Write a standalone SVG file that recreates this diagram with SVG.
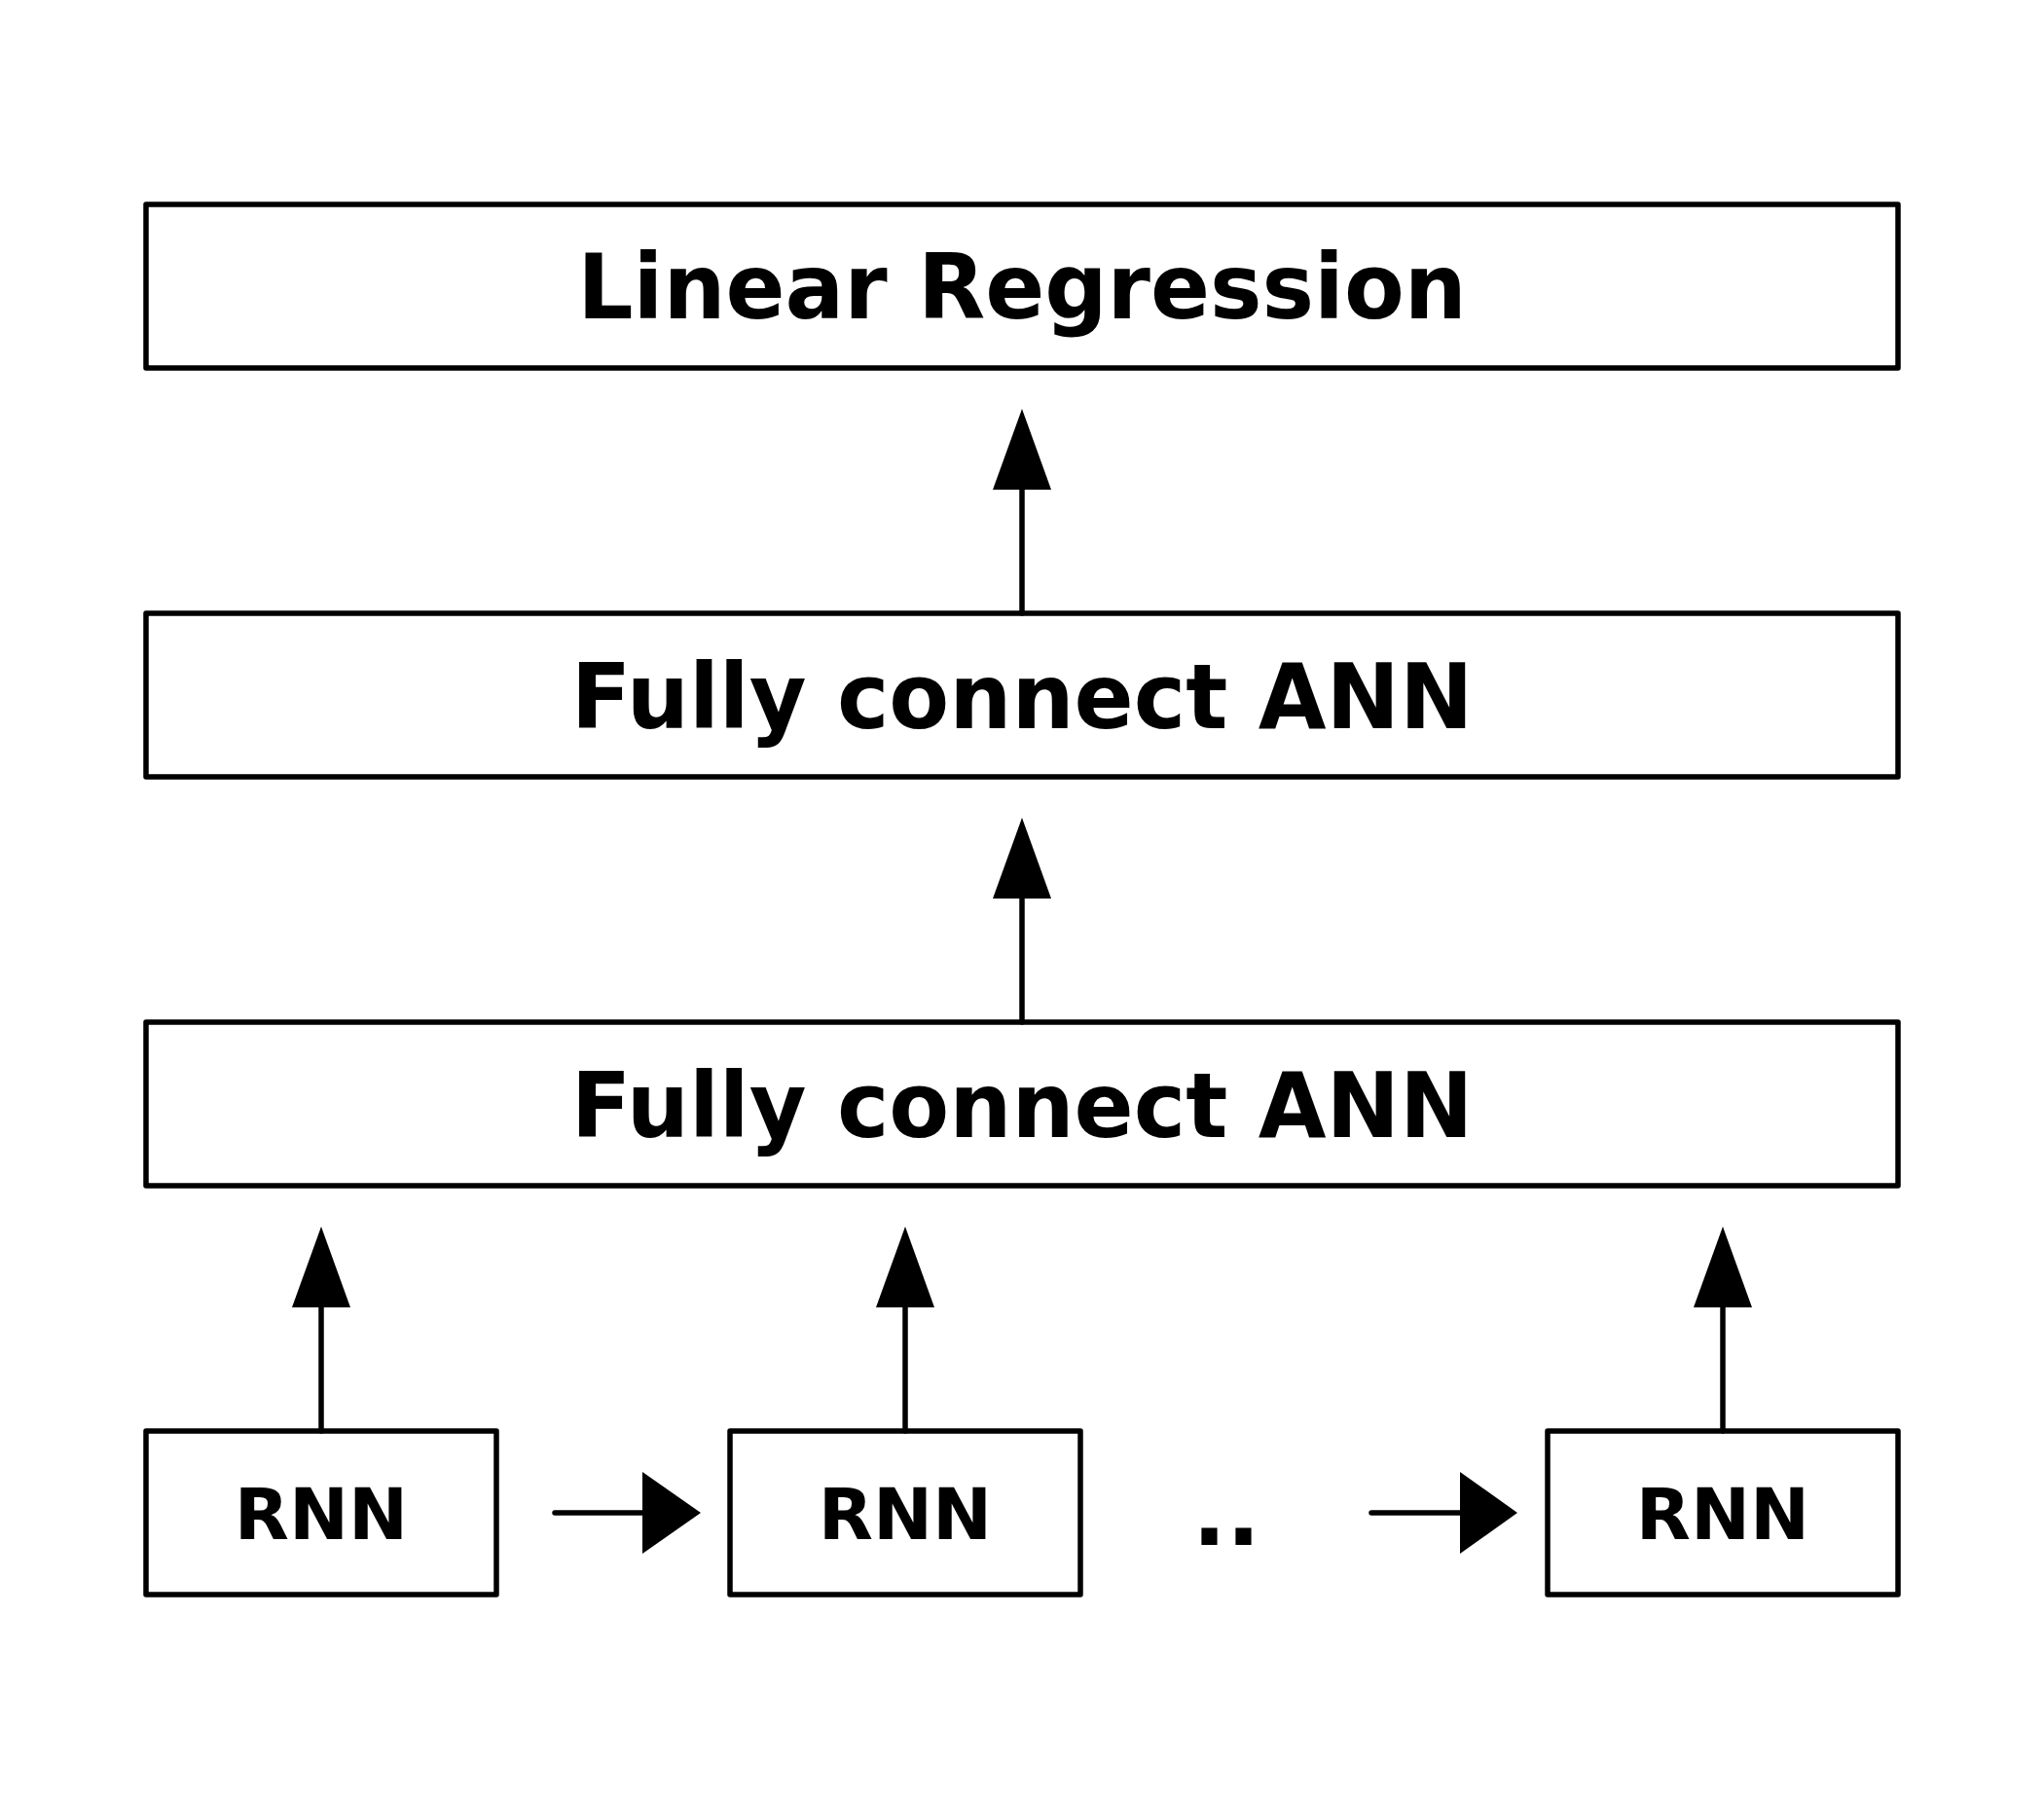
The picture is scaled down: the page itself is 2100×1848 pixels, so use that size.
<svg xmlns="http://www.w3.org/2000/svg" width="2100" height="1848" viewBox="0 0 2100 1848">
<style>
.box{fill:#fff;stroke:#000;stroke-width:5.5;stroke-linejoin:round}
.lbl{font-family:"DejaVu Sans",Verdana,sans-serif;font-weight:bold;fill:#000;text-anchor:middle}
.big{font-size:92px}
.small{font-size:73px}
.ln{stroke:#000;stroke-width:5.5;stroke-linecap:round;fill:none}
.hd{fill:#000}
</style>
<rect width="2100" height="1848" fill="#fff"/>
<g id="linear-regression">
<rect class="box" x="150" y="210" width="1800" height="168"/>
<text class="lbl big" transform="translate(1050,327) scale(0.978,1)">Linear Regression</text>
</g>
<g id="fc-ann-2">
<rect class="box" x="150" y="630" width="1800" height="168"/>
<text class="lbl big" transform="translate(1050,748) scale(0.98,1)">Fully connect ANN</text>
</g>
<g id="fc-ann-1">
<rect class="box" x="150" y="1050" width="1800" height="168"/>
<text class="lbl big" transform="translate(1050,1168) scale(0.98,1)">Fully connect ANN</text>
</g>
<g id="rnn-1">
<rect class="box" x="150" y="1470" width="360" height="168"/>
<text class="lbl small" x="330" y="1581">RNN</text>
</g>
<g id="rnn-2">
<rect class="box" x="750" y="1470" width="360" height="168"/>
<text class="lbl small" x="930" y="1581">RNN</text>
</g>
<g id="rnn-3">
<rect class="box" x="1590" y="1470" width="360" height="168"/>
<text class="lbl small" x="1770" y="1581">RNN</text>
</g>
<g id="ellipsis">
<text class="lbl big" x="1260" y="1587">..</text>
</g>
<g id="connectors">
<line class="ln" x1="1050" y1="630" x2="1050" y2="500"/>
<polygon class="hd" points="1050,420 1080,503 1020,503"/>
<line class="ln" x1="1050" y1="1050" x2="1050" y2="920"/>
<polygon class="hd" points="1050,840 1080,923 1020,923"/>
<line class="ln" x1="330" y1="1470" x2="330" y2="1340"/>
<polygon class="hd" points="330,1260 360,1343 300,1343"/>
<line class="ln" x1="930" y1="1470" x2="930" y2="1340"/>
<polygon class="hd" points="930,1260 960,1343 900,1343"/>
<line class="ln" x1="1770" y1="1470" x2="1770" y2="1340"/>
<polygon class="hd" points="1770,1260 1800,1343 1740,1343"/>
<line class="ln" x1="570" y1="1554" x2="662" y2="1554"/>
<polygon class="hd" points="720,1554 660,1512 660,1596"/>
<line class="ln" x1="1409" y1="1554" x2="1502" y2="1554"/>
<polygon class="hd" points="1559,1554 1500,1512 1500,1596"/>
</g>
</svg>
